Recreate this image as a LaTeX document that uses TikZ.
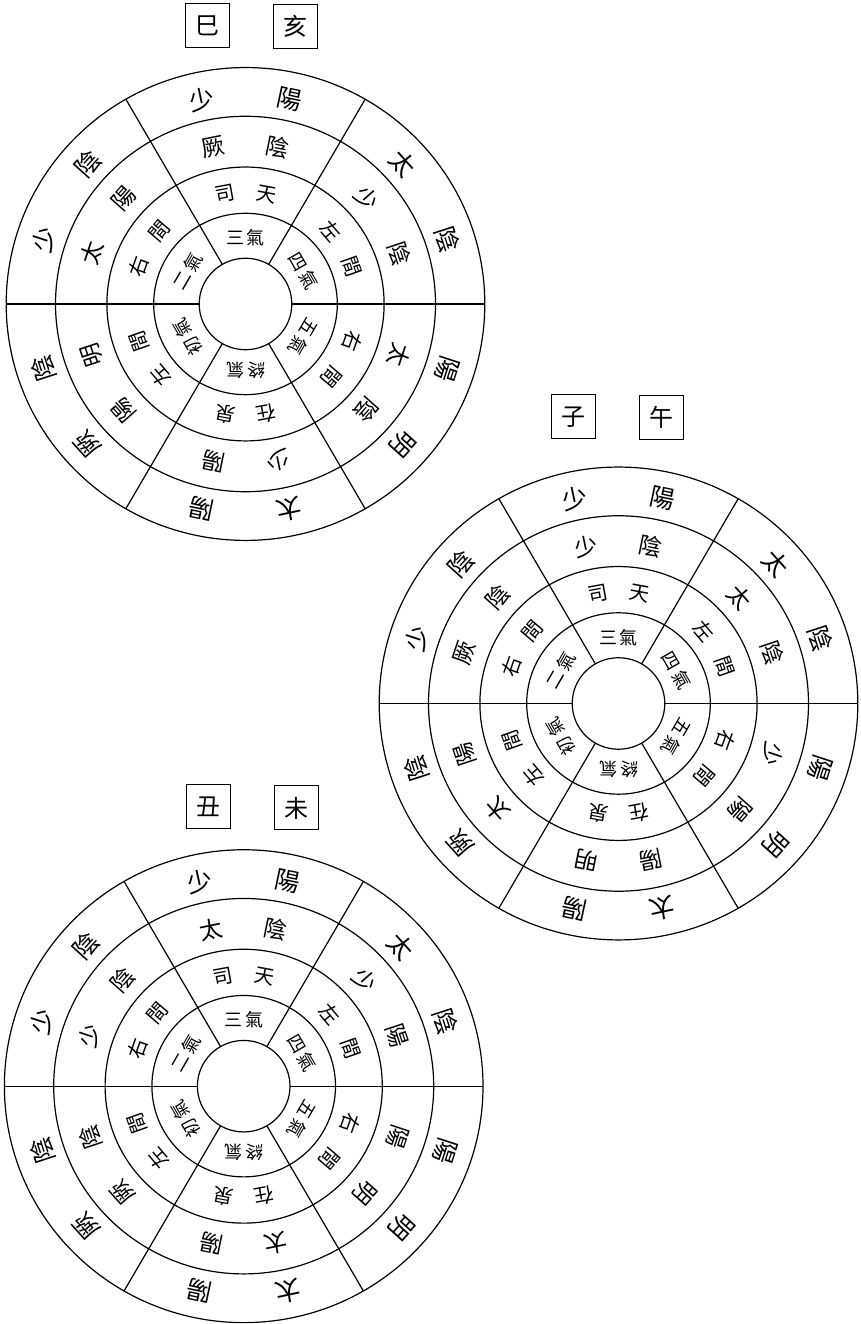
\documentclass[tikz,border=0pt]{standalone}
\usepackage{fontspec}
\newfontfamily\cjk{Noto Sans CJK TC}
\tikzset{
  ringline/.style={line width=1.2pt},
  ch/.style={inner sep=0pt, font=\cjk\fontsize{#1}{#1}\selectfont},
  branchbox/.style={draw, line width=1pt, minimum size=44pt, inner sep=0pt, font=\cjk\fontsize{24}{24}\selectfont},
}
\newcommand\drawwheel[3]{%
  \begin{scope}[shift={#2}, yscale=0.988]
    \foreach \r in {46.3,91.8,138.6,190,239.3} \draw[ringline] (0,0) circle (\r);
    \foreach \a in {0,60,120,180,240,300} \draw[ringline] (\a:46.3) -- (\a:239.3);
    % outer ring (host qi)
    \foreach \a/\p/\q [count=\i] in {90/少/陽,30/太/陰,-30/陽/明,-90/太/陽,-150/厥/陰,150/少/陰} {
      \node[ch=25, rotate=\a+12-90] (#1d\i p) at (\a+12:212) {\p};
      \node[ch=25, rotate=\a-12-90] (#1d\i q) at (\a-12:212) {\q};
    }
    % guest qi ring
    \foreach \a/\p/\q [count=\i] in {#3} {
      \node[ch=23, rotate=\a+11.5-90] (#1c\i p) at (\a+11.5:162) {\p};
      \node[ch=23, rotate=\a-11.5-90] (#1c\i q) at (\a-11.5:162) {\q};
    }
    % si tian / zai quan ring
    \foreach \a/\p/\q [count=\i] in {90/司/天,30/左/間,-30/右/間,-90/在/泉,-150/左/間,150/右/間} {
      \node[ch=20, rotate=\a+10.5-90] (#1b\i p) at (\a+10.5:113) {\p};
      \node[ch=20, rotate=\a-10.5-90] (#1b\i q) at (\a-10.5:113) {\q};
    }
    % qi ring
    \foreach \a/\p/\q [count=\i] in {90/三/氣,30/四/氣,-30/五/氣,-90/終/氣,-150/初/氣,150/二/氣} {
      \node[ch=18, rotate=\a-90] (#1a\i) at (\a:67) {\p\hspace{3pt}\q};
    }
  \end{scope}}
\begin{document}
\begin{tikzpicture}[x=1pt,y=1pt]
  \useasboundingbox (0,0) rectangle (860,1324);
  \fill[white] (0,0) rectangle (860,1324);
  % diagram 1: si hai
  \node[branchbox] (si) at (207,1298) {巳};
  \node[branchbox] (hai) at (295,1297.5) {亥};
  \drawwheel{w1}{(245.5,1020)}{90/厥/陰,30/少/陰,-30/太/陰,-90/少/陽,-150/陽/明,150/太/陽}
  % diagram 2: zi wu
  \node[branchbox] (zi) at (573.3,907) {子};
  \node[branchbox] (wu) at (661,906.7) {午};
  \drawwheel{w2}{(618.5,620.5)}{90/少/陰,30/太/陰,-30/少/陽,-90/陽/明,-150/太/陽,150/厥/陰}
  % diagram 3: chou wei
  \node[branchbox] (chou) at (208.5,517.3) {丑};
  \node[branchbox] (wei) at (296.2,516) {未};
  \drawwheel{w3}{(243.7,237.8)}{90/太/陰,30/少/陽,-30/陽/明,-90/太/陽,-150/厥/陰,150/少/陰}
\end{tikzpicture}
\end{document}
